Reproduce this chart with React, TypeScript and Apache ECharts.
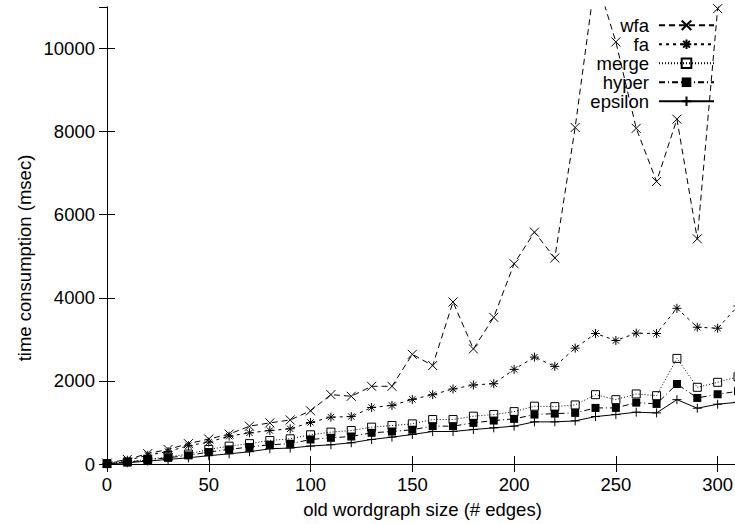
import React, { useEffect, useRef } from "react";
import * as echarts from "echarts";

const edges = [0, 10, 20, 30, 40, 50, 60, 70, 80, 90, 100, 110, 120, 130, 140, 150, 160, 170, 180, 190, 200, 210, 220, 230, 240, 250, 260, 270, 280, 290, 300, 310];
const wfa = [20, 110, 250, 350, 490, 600, 720, 910, 990, 1060, 1280, 1670, 1630, 1870, 1870, 2640, 2370, 3900, 2770, 3530, 4820, 5580, 4960, 8100, 11750, 10160, 8080, 6800, 8300, 5420, 10960, 12000];
const fa = [15, 90, 210, 300, 440, 527, 671, 750, 806, 847, 1000, 1127, 1142, 1360, 1410, 1555, 1669, 1806, 1902, 1933, 2278, 2573, 2350, 2789, 3141, 2973, 3149, 3141, 3748, 3292, 3268, 3804];
const merge = [10, 50, 110, 170, 240, 350, 430, 490, 566, 607, 703, 767, 806, 887, 926, 966, 1070, 1070, 1151, 1190, 1261, 1391, 1381, 1422, 1669, 1549, 1686, 1645, 2542, 1846, 1966, 2101];
const hyper = [10, 40, 100, 150, 207, 288, 350, 410, 463, 487, 590, 631, 662, 751, 782, 825, 911, 911, 990, 1046, 1086, 1190, 1213, 1230, 1350, 1350, 1477, 1446, 1926, 1590, 1679, 1750];
const epsilon = [5, 30, 70, 110, 150, 200, 245, 295, 367, 384, 432, 463, 511, 590, 647, 710, 782, 782, 830, 870, 911, 1014, 1014, 1038, 1142, 1190, 1247, 1230, 1549, 1343, 1439, 1487];

const seriesNames = ["wfa", "fa", "merge", "hyper", "epsilon"];
const xTitle = "old wordgraph size (# edges)";
const yTitle = "time consumption (msec)";

const FONT = "'Liberation Sans', Arial, Helvetica, sans-serif";
const FS = 18.5;

const X_SYM = "path://M0,0L10,10M0,10L10,0";
const STAR_SYM = "path://M0,5L10,5M5,0L5,10M1.5,1.5L8.5,8.5M1.5,8.5L8.5,1.5";
const PLUS_SYM = "path://M0,5L10,5M5,0L5,10";

function pairs(ys: number[]) {
  return edges.map((x, i) => [x, ys[i]]);
}

export default function App() {
  const ref = useRef<HTMLDivElement>(null);
  useEffect(() => {
    if (!ref.current) return;
    const chart = echarts.init(ref.current, undefined, { renderer: "svg" });
    const strokeItem = { color: "#000", borderColor: "#000", borderWidth: 1 };
    const common = {
      type: "line",
      showAllSymbol: true,
      clip: true,
      xAxisIndex: 0,
      yAxisIndex: 0,
      emphasis: { disabled: true },
    };
    const axisLine = { show: true, lineStyle: { color: "#000", width: 1 } };
    const tick = { show: true, inside: true, length: 8, lineStyle: { color: "#000", width: 1 } };
    const plain = (v: number) => String(v);
    chart.setOption({
      animation: false,
      backgroundColor: "#fff",
      textStyle: { fontFamily: FONT },
      grid: { left: 107, top: 7, width: 631, height: 458.5, containLabel: false },
      xAxis: [
        {
          type: "value",
          min: 0,
          max: 310,
          interval: 50,
          position: "bottom",
          axisLine,
          axisTick: tick,
          splitLine: { show: false },
          axisLabel: { margin: 10.5, color: "#000", fontSize: FS, fontFamily: FONT, showMaxLabel: false, formatter: plain },
          name: xTitle,
          nameLocation: "middle",
          nameGap: 36,
          nameTextStyle: { color: "#000", fontSize: FS, fontFamily: FONT },
        },
        {
          type: "value",
          min: 0,
          max: 310,
          interval: 50,
          position: "top",
          axisLine,
          axisTick: tick,
          splitLine: { show: false },
          axisLabel: { show: false },
        },
      ],
      yAxis: [
        {
          type: "value",
          min: 0,
          max: 11000,
          interval: 2000,
          position: "left",
          axisLine,
          axisTick: tick,
          splitLine: { show: false },
          axisLabel: { margin: 12, color: "#000", fontSize: FS, fontFamily: FONT, showMaxLabel: false, formatter: plain },
        },
        {
          type: "value",
          min: 0,
          max: 11000,
          interval: 2000,
          position: "right",
          axisLine,
          axisTick: tick,
          splitLine: { show: false },
          axisLabel: { show: false },
        },
      ],
      legend: {
        orient: "vertical",
        align: "right",
        right: 45,
        top: 15.75,
        padding: 0,
        itemGap: 0,
        itemWidth: 55,
        itemHeight: 12,
        selectedMode: false,
        data: seriesNames,
        textStyle: { color: "#000", fontSize: FS, fontFamily: FONT, lineHeight: 18.5, padding: [0, 5, 0, 0] },
      },
      graphic: [
        {
          type: "text",
          x: 24.6,
          y: 258,
          rotation: Math.PI / 2,
          style: {
            text: yTitle,
            fill: "#000",
            font: `${FS}px ${FONT}`,
            textAlign: "center",
            textVerticalAlign: "middle",
          },
        },
      ],
      series: [
        {
          ...common,
          name: seriesNames[0],
          data: pairs(wfa),
          symbol: X_SYM,
          symbolSize: 9,
          itemStyle: strokeItem,
          lineStyle: { color: "#000", width: 1, type: [6, 4] },
        },
        {
          ...common,
          name: seriesNames[1],
          data: pairs(fa),
          symbol: STAR_SYM,
          symbolSize: 9,
          itemStyle: strokeItem,
          lineStyle: { color: "#000", width: 1, type: [3, 4] },
        },
        {
          ...common,
          name: seriesNames[2],
          data: pairs(merge),
          symbol: "rect",
          symbolSize: 8,
          itemStyle: { color: "rgba(0,0,0,0)", borderColor: "#000", borderWidth: 1 },
          lineStyle: { color: "#000", width: 1, type: [1, 2] },
        },
        {
          ...common,
          name: seriesNames[3],
          data: pairs(hyper),
          symbol: "rect",
          symbolSize: 8,
          itemStyle: { color: "#000", borderColor: "#000", borderWidth: 0 },
          lineStyle: { color: "#000", width: 1, type: [6, 3, 1, 3] },
        },
        {
          ...common,
          name: seriesNames[4],
          data: pairs(epsilon),
          symbol: PLUS_SYM,
          symbolSize: 9,
          itemStyle: strokeItem,
          lineStyle: { color: "#000", width: 1, type: "solid" },
        },
      ],
    });
    return () => chart.dispose();
  }, []);
  return (
    <div style={{ position: "fixed", left: 0, top: 0, width: 735, height: 524, overflow: "hidden", background: "#fff" }}>
      <div ref={ref} style={{ width: 760, height: 524 }} />
    </div>
  );
}
